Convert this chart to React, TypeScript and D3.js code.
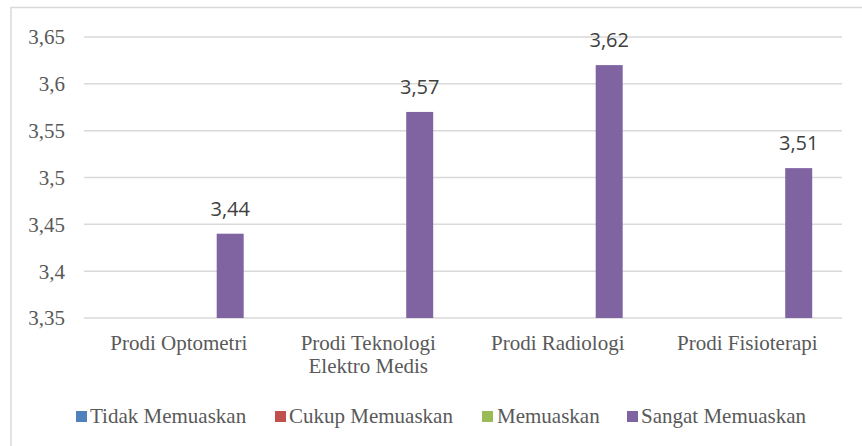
import React from "react";
import * as d3 from "d3";

const categories: string[][] = [
  ["Prodi Optometri"],
  ["Prodi Teknologi", "Elektro Medis"],
  ["Prodi Radiologi"],
  ["Prodi Fisioterapi"],
];
const seriesNames = ["Tidak Memuaskan", "Cukup Memuaskan", "Memuaskan", "Sangat Memuaskan"];
const seriesColors = ["#4F81BD", "#C0504D", "#9BBB59", "#8064A2"];
const tidak = [0, 0, 0, 0];
const cukup = [0, 0, 0, 0];
const memuaskan = [0, 0, 0, 0];
const sangat = [3.44, 3.57, 3.62, 3.51];
const yTicks = [3.35, 3.4, 3.45, 3.5, 3.55, 3.6, 3.65];

const W = 862;
const H = 446;
const plot = { left: 84, right: 842, top: 37, bottom: 318 };
const SERIF = "'Liberation Serif', 'Times New Roman', 'DejaVu Serif', serif";

const fmt = (v: number) => String(v).replace(".", ",");

export default function App() {
  const series = [tidak, cukup, memuaskan, sangat];
  const x = d3
    .scaleBand<number>()
    .domain(categories.map((_, i) => i))
    .range([plot.left, plot.right])
    .paddingInner(0)
    .paddingOuter(0);
  const xs = d3
    .scaleBand<number>()
    .domain(seriesNames.map((_, i) => i))
    .range([0, x.bandwidth()])
    .paddingInner(0.213)
    .paddingOuter(0.869);
  const y = d3.scaleLinear().domain([3.35, 3.65]).range([plot.bottom, plot.top]);

  const legendItems = [
    { marker: 76, text: 90 },
    { marker: 275, text: 289 },
    { marker: 482, text: 497 },
    { marker: 627, text: 641 },
  ];

  return (
    <svg
      width={W}
      height={H}
      style={{ position: "absolute", left: 0, top: 0, background: "#fff" }}
    >
      <rect x={11} y={7.5} width={W} height={H} fill="#fff" stroke="#d9d9d9" strokeWidth={1.5} />
      {yTicks.map((t) => (
        <g key={t}>
          <line x1={plot.left} x2={plot.right} y1={y(t)} y2={y(t)} stroke="#d9d9d9" strokeWidth={1.5} />
          <text
            x={65}
            y={y(t)}
            dy="0.35em"
            textAnchor="end"
            fontFamily={SERIF}
            fontSize={21}
            fill="#595959"
          >
            {fmt(t)}
          </text>
        </g>
      ))}
      {series.map((vals, si) =>
        vals.map((v, ci) => {
          if (v <= 3.35) return null;
          const bx = (x(ci) ?? 0) + (xs(si) ?? 0);
          return (
            <g key={`${si}-${ci}`}>
              <rect
                x={bx}
                y={y(v)}
                width={xs.bandwidth()}
                height={y(3.35) - y(v)}
                fill={seriesColors[si]}
              />
              <text
                x={bx + xs.bandwidth() / 2}
                y={y(v) - 18}
                textAnchor="middle"
                fontFamily="'Open Sans', sans-serif"
                fontSize={20}
                fill="#404040"
              >
                {fmt(v)}
              </text>
            </g>
          );
        })
      )}
      {categories.map((lines, ci) => (
        <text
          key={ci}
          textAnchor="middle"
          fontFamily={SERIF}
          fontSize={21}
          fill="#595959"
        >
          {lines.map((l, li) => (
            <tspan key={li} x={(x(ci) ?? 0) + x.bandwidth() / 2} y={350 + li * 23}>
              {l}
            </tspan>
          ))}
        </text>
      ))}
      {seriesNames.map((n, i) => (
        <g key={n}>
          <rect x={legendItems[i].marker} y={411} width={11} height={11} fill={seriesColors[i]} />
          <text
            x={legendItems[i].text}
            y={423}
            fontFamily={SERIF}
            fontSize={21}
            fill="#595959"
          >
            {n}
          </text>
        </g>
      ))}
    </svg>
  );
}
